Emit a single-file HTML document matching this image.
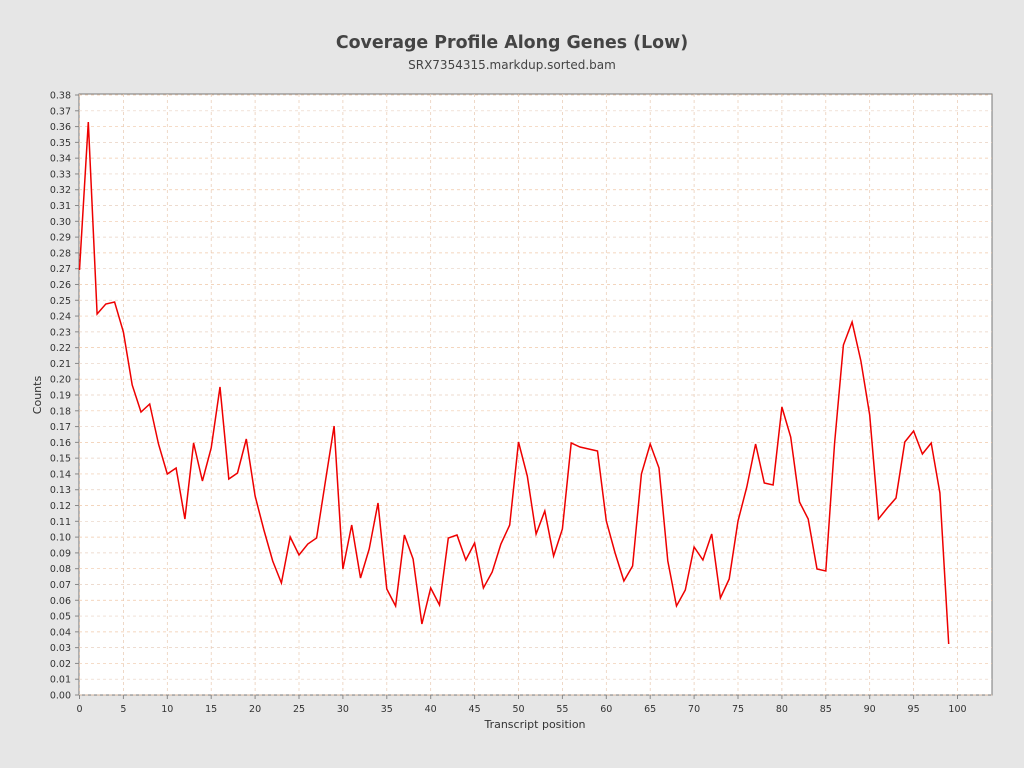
<!DOCTYPE html>
<html><head><meta charset="utf-8"><style>
html,body{margin:0;padding:0;background:#e6e6e6;}
svg{display:block;font-family:"DejaVu Sans","Liberation Sans",sans-serif;}
</style></head><body>
<svg id="s" width="1024" height="768" xmlns="http://www.w3.org/2000/svg">
<rect width="1024" height="768" fill="#e6e6e6"/>
<text x="512" y="48" text-anchor="middle" font-size="17.4" font-weight="bold" fill="#444">Coverage Profile Along Genes (Low)</text>
<text x="512" y="69" text-anchor="middle" font-size="12" fill="#444">SRX7354315.markdup.sorted.bam</text>
<rect x="79" y="94" width="913" height="601" fill="#fff" stroke="#777" stroke-width="1"/>
<g id="grid"></g>
<g id="ticks" font-size="9.5" fill="#333"></g>
<text x="535" y="728" text-anchor="middle" font-size="11" fill="#333">Transcript position</text>
<text transform="translate(41,395) rotate(-90)" text-anchor="middle" font-size="11" fill="#333">Counts</text>
<polyline id="line" fill="none" stroke="#ee0000" stroke-width="1.5"/>
</svg>
<script>
var ns="http://www.w3.org/2000/svg",g=document.getElementById('grid'),t=document.getElementById('ticks');
function el(p,n,a,txt){var e=document.createElementNS(ns,n);for(var k in a)e.setAttribute(k,a[k]);if(txt!=null)e.textContent=txt;p.appendChild(e);}
for(var i=0;i<=38;i++){var y=695-i*600/38;
 el(g,'line',{x1:79,x2:992,y1:y,y2:y,stroke:i%2?'#e8d0c0':'#f0c8a8','stroke-width':0.7,'stroke-dasharray':'3,3'});
 el(t,'text',{x:71,y:y+3.5,'text-anchor':'end'},(i/100).toFixed(2));
 el(t,'line',{x1:75,x2:79,y1:y,y2:y,stroke:'#888'});}
for(var i=0;i<=100;i+=5){var x=79.5+i*8.78;
 el(g,'line',{x1:x,x2:x,y1:94,y2:695,stroke:'#e8c8b0','stroke-width':0.7,'stroke-dasharray':'3,3'});
 el(t,'text',{x:x,y:712,'text-anchor':'middle'},i);
 el(t,'line',{x1:x,x2:x,y1:695,y2:699,stroke:'#888'});}
var d=[270,122,314,304,302,332,385,412,404,444,474,468,519,443,481,448,387,479,473,439,496,530,561,583,537,555,544,538,482,426,569,525,578,549,503,589,606,535,559,624,588,605,538,535,560,543,588,572,544,525,442,476,534,511,556,529,443,447,449,451,521,553,581,566,474,444,468,561,606,590,547,560,534,598,579,521,487,444,483,485,407,437,502,519,569,571,443,345,322,361,415,519,508,498,442,431,454,443,493,644];
document.getElementById('line').setAttribute('points',d.map(function(y,i){return (79.5+i*8.78).toFixed(1)+','+y;}).join(' '));
</script>
</body></html>
